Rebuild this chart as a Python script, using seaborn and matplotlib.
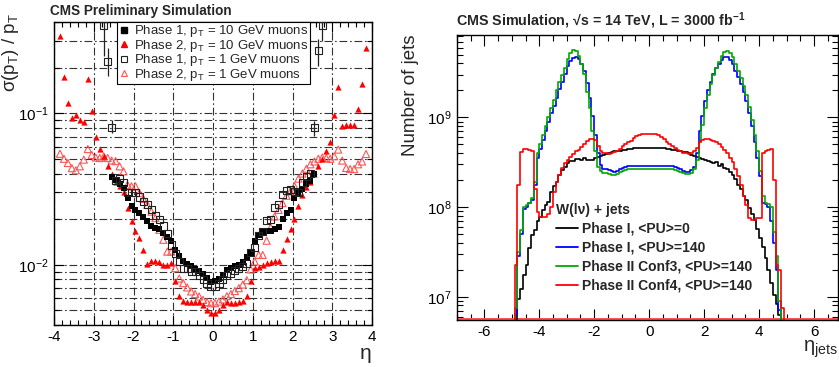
import numpy as np
import matplotlib
matplotlib.use("Agg")
import matplotlib.pyplot as plt
import seaborn as sns
from matplotlib.ticker import LogLocator, MultipleLocator, NullFormatter, LogFormatterMathtext
from matplotlib.lines import Line2D

# ---------------- data: left panel (sigma(pT)/pT vs eta) ----------------
eta_p1_10 = np.round(np.arange(-2.55, 2.56, 0.1), 2)
res_p1_10 = [0.0381, 0.0360, 0.0339, 0.0319, 0.0276, 0.0243, 0.0231, 0.0220, 0.0206, 0.0194,
             0.0179, 0.0175, 0.0171, 0.0162, 0.0152, 0.0143, 0.0126, 0.0114, 0.0106, 0.0101,
             0.00975, 0.0094, 0.0091, 0.00867, 0.0082, 0.00768,
             0.00783, 0.0081, 0.0086, 0.00927, 0.0095, 0.00975, 0.0100, 0.0105, 0.0112, 0.0119,
             0.0143, 0.0156, 0.0164, 0.0168, 0.0168, 0.0171, 0.0177, 0.0199, 0.0220, 0.0231,
             0.0276, 0.0298, 0.0314, 0.0342, 0.0356, 0.0394]

eta_p2 = np.round(np.arange(-3.85, 3.86, 0.1), 2)
res_p2_10 = [0.324, 0.173, 0.116, 0.093, 0.0966, 0.0908, 0.0877, 0.167, 0.104, 0.070,
             0.058, 0.052, 0.045, 0.040, 0.035, 0.033, 0.030, 0.0236, 0.0193, 0.0168,
             0.0151, 0.0125, 0.0101, 0.0106, 0.0106, 0.0104, 0.0100, 0.0100, 0.0102, 0.0078,
             0.0062, 0.0058, 0.0057, 0.0057, 0.0057, 0.0057, 0.0054, 0.0050, 0.0048,
             0.0048, 0.0050, 0.0054, 0.0057, 0.0056, 0.0056, 0.0057, 0.0058, 0.0062, 0.0078,
             0.0095, 0.0097, 0.0100, 0.0102, 0.0104, 0.0106, 0.0106, 0.0125, 0.0148, 0.0172,
             0.0200, 0.0245, 0.0290, 0.0325, 0.0350, 0.0400, 0.0450, 0.0500, 0.0560, 0.0650,
             0.0970, 0.148, 0.082, 0.083, 0.084, 0.083, 0.107, 0.155, 0.270]

eta_p1_1 = np.round(np.arange(-2.75, 2.76, 0.1), 2)
res_p1_1 = [0.38, 0.22, 0.081, 0.036, 0.037, 0.035, 0.030, 0.030, 0.030, 0.028,
            0.026, 0.025, 0.023, 0.021, 0.020, 0.018, 0.016, 0.0135, 0.0118, 0.0105,
            0.0095, 0.0095, 0.0090, 0.0090, 0.0085, 0.0080, 0.0075, 0.0072,
            0.0072, 0.0075, 0.0080, 0.0085, 0.0088, 0.0092, 0.0095, 0.0098, 0.0102, 0.0120,
            0.0130, 0.0155, 0.0165, 0.0195, 0.0200, 0.0240, 0.0250, 0.0290, 0.0310, 0.0315,
            0.0305, 0.0300, 0.0350, 0.0380, 0.0400, 0.080, 0.26, 0.38]
err_eta = [-2.75, -2.65, -2.55, 2.55, 2.65, 2.75]
err_lo = [0.24, 0.176, 0.074, 0.071, 0.206, 0.30]
err_hi = [0.50, 0.27, 0.090, 0.089, 0.31, 0.50]

res_p2_1 = [0.054, 0.050, 0.0469, 0.0434, 0.0420, 0.0446, 0.0494, 0.0580, 0.0530, 0.0510,
            0.0506, 0.0518, 0.0506, 0.0487, 0.0483, 0.0446, 0.0413, 0.0337, 0.0329, 0.0329,
            0.0297, 0.0272, 0.0248, 0.0224, 0.0203, 0.0170, 0.0146, 0.0122, 0.0122, 0.0095,
            0.0081, 0.00756, 0.00708, 0.00666, 0.0064, 0.00617, 0.00586, 0.00566, 0.00557,
            0.00557, 0.00571, 0.0059, 0.0062, 0.0064, 0.0067, 0.0070, 0.0074, 0.0079, 0.0093,
            0.0105, 0.0116, 0.0116, 0.0144, 0.0176, 0.0208, 0.0230, 0.0255, 0.0285, 0.0305,
            0.0330, 0.0370, 0.0400, 0.0430, 0.0460, 0.0480, 0.0500, 0.0510, 0.0505, 0.0500,
            0.0520, 0.0575, 0.0487, 0.0435, 0.0428, 0.0428, 0.0460, 0.0480, 0.0538]

legend_left = ["Phase 1, p$_T$ = 10 GeV muons", "Phase 2, p$_T$ = 10 GeV muons",
               "Phase 1, p$_T$ = 1 GeV muons", "Phase 2, p$_T$ = 1 GeV muons"]

# ---------------- data: right panel (jets vs eta), units of 1e8 ----------------
bin_edges = np.round(np.arange(-5.0, 5.001, 0.1), 2)
jets_p1_pu0 = [0, 0.056, 0.095, 0.123, 0.174, 0.224, 0.347, 0.490, 0.550, 0.692,
               0.776, 0.933, 1.047, 1.148, 1.479, 1.698, 1.905, 2.291, 2.57, 2.818,
               3.09, 3.236, 3.236, 3.467, 3.467, 3.311, 3.548, 3.311, 3.311, 3.388,
               3.548, 3.631, 3.715, 3.802, 3.89, 3.98, 4.07, 4.17, 4.17, 4.27,
               4.37, 4.37, 4.47, 4.47, 4.57, 4.57, 4.57, 4.57, 4.57, 4.57,
               4.57, 4.57, 4.57, 4.57, 4.57, 4.57, 4.47, 4.47, 4.37, 4.37,
               4.27, 4.17, 4.07, 4.07, 3.98, 3.802, 3.715, 3.631, 3.548, 3.467,
               3.311, 3.236, 3.162, 3.09, 3.162, 2.884, 3.02, 2.754, 2.69, 2.455,
               2.291, 2.04, 1.778, 1.585, 1.318, 1.202, 0.977, 0.832, 0.724, 0.575,
               0.457, 0.363, 0.269, 0.20, 0.141, 0.105, 0.083, 0.063, 0, 0]
jets_p1_pu140 = [0, 0.063, 0.282, 0.501, 0.955, 1.0, 1.096, 1.202, 1.778, 3.548,
                 4.47, 5.62, 7.08, 8.91, 11.2, 13.5, 16.6, 20.9, 25.1, 30.2,
                 37.2, 42.7, 45.7, 46.8, 44.7, 39.8, 33.1, 24.0, 16.6, 10.5,
                 6.31, 3.98, 2.951, 2.69, 2.63, 2.57, 2.512, 2.455, 2.512, 2.63,
                 2.754, 2.818, 2.884, 2.884, 2.884, 2.884, 2.884, 2.884, 2.884, 2.884,
                 2.884, 2.884, 2.884, 2.884, 2.884, 2.884, 2.884, 2.884, 2.884, 2.818,
                 2.754, 2.63, 2.512, 2.455, 2.455, 2.57, 2.818, 3.98, 7.08, 10.5,
                 15.1, 20.0, 25.1, 30.2, 35.5, 39.8, 43.7, 46.8, 46.8, 43.7,
                 39.8, 33.1, 28.2, 23.4, 19.1, 15.1, 11.2, 7.94, 5.25, 3.548,
                 2.239, 1.122, 1.072, 1.0, 0.708, 0.398, 0.20, 0.071, 0, 0]
jets_p2_conf3 = [0, 0.074, 0.316, 0.562, 1.0, 1.047, 1.122, 1.259, 1.905, 3.98,
                 5.01, 6.31, 7.94, 10.0, 12.6, 15.8, 20.0, 25.1, 29.5, 35.5,
                 44.7, 52.5, 56.2, 55.0, 47.9, 39.8, 30.2, 19.1, 12.6, 7.08,
                 4.17, 2.818, 2.512, 2.399, 2.399, 2.344, 2.291, 2.291, 2.344, 2.455,
                 2.512, 2.57, 2.63, 2.69, 2.69, 2.69, 2.69, 2.69, 2.69, 2.69,
                 2.69, 2.69, 2.69, 2.69, 2.69, 2.69, 2.69, 2.69, 2.63, 2.57,
                 2.512, 2.455, 2.399, 2.344, 2.344, 2.399, 2.63, 3.311, 5.25, 8.32,
                 12.6, 17.8, 23.4, 29.5, 35.5, 41.7, 47.9, 53.7, 55.0, 52.5,
                 46.8, 39.8, 33.1, 27.5, 22.4, 17.8, 13.2, 9.33, 6.31, 4.17,
                 2.512, 1.318, 1.122, 1.072, 1.0, 0.525, 0.282, 0.089, 0, 0]
jets_p2_conf4 = [0, 0.224, 1.778, 4.07, 4.47, 4.47, 4.37, 4.27, 1.585, 0.891,
                 0.776, 0.776, 0.776, 0.832, 1.0, 1.479, 1.905, 2.291, 2.754, 3.09,
                 3.311, 3.631, 3.89, 4.17, 4.37, 4.68, 5.01, 5.50, 5.75, 5.75,
                 5.62, 4.79, 4.27, 3.98, 3.98, 3.89, 3.98, 4.07, 4.27, 4.47,
                 4.79, 5.01, 5.25, 5.50, 5.89, 6.17, 6.31, 6.46, 6.61, 6.61,
                 6.61, 6.61, 6.46, 6.31, 6.03, 5.75, 5.37, 5.01, 4.79, 4.57,
                 4.37, 4.17, 3.98, 3.98, 3.89, 3.98, 4.17, 4.57, 5.25, 5.62,
                 5.75, 5.75, 5.62, 5.50, 5.25, 5.01, 4.68, 4.37, 3.98, 3.548,
                 3.162, 2.63, 2.239, 1.778, 1.318, 1.047, 0.759, 0.724, 0.724, 0.759,
                 0.759, 3.98, 4.27, 4.37, 4.47, 1.995, 0.224, 0.20, 0.074, 0]
legend_right = ["Phase I, <PU>=0", "Phase I, <PU>=140",
                "Phase II Conf3, <PU>=140", "Phase II Conf4, <PU>=140"]
colors_right = ["black", "#0000ff", "#00aa00", "#ff0000"]

# ---------------- style ----------------
sns.set_theme(style="ticks")
plt.rcParams['font.family'] = ['Liberation Sans', 'DejaVu Sans']
plt.rcParams['mathtext.default'] = 'regular'
plt.rcParams['axes.unicode_minus'] = False
plt.rcParams['axes.linewidth'] = 1.0
plt.rcParams['axes.edgecolor'] = 'black'

W, H = 839, 367
fig = plt.figure(figsize=(W / 100, H / 100), dpi=100)

# ================= left panel =================
axL = fig.add_axes([54 / W, 42 / H, 318 / W, 303 / H])
red = "#ff0000"
sns.scatterplot(x=eta_p2, y=res_p2_1, ax=axL, marker="^", s=26, facecolors="none",
                edgecolor="#ff5555", linewidth=0.8, zorder=3)
sns.scatterplot(x=eta_p2, y=res_p2_10, ax=axL, marker="^", s=20, color=red,
                edgecolor=red, linewidth=0, zorder=4)
sns.scatterplot(x=eta_p1_10, y=res_p1_10, ax=axL, marker="s", s=16, color="black",
                edgecolor="black", linewidth=0, zorder=5)
sns.scatterplot(x=eta_p1_1, y=res_p1_1, ax=axL, marker="s", s=26, facecolors="none",
                edgecolor="#222222", linewidth=0.8, zorder=6)
axL.vlines(err_eta, err_lo, err_hi, color="#222222", lw=0.9, zorder=6)

axL.set_yscale("log")
axL.set_xlim(-4, 4)
axL.set_ylim(0.004, 0.4)
axL.xaxis.set_major_locator(MultipleLocator(1))
axL.xaxis.set_minor_locator(MultipleLocator(0.2))
axL.yaxis.set_major_locator(LogLocator(base=10, numticks=10))
axL.yaxis.set_minor_locator(LogLocator(base=10, subs=np.arange(2, 10), numticks=20))
axL.yaxis.set_major_formatter(LogFormatterMathtext())
axL.yaxis.set_minor_formatter(NullFormatter())
gstyle = dict(color="#333333", lw=0.8, ls=(0, (7, 2.5, 1.5, 2.5)))
axL.grid(True, which="both", axis="y", **gstyle)
axL.grid(True, which="major", axis="x", **gstyle)
axL.set_axisbelow(True)
axL.tick_params(which="both", direction="in", top=True, right=True, labelsize=11,
                colors="black")
axL.tick_params(which="major", length=7, width=0.8)
axL.tick_params(which="minor", length=3.5, width=0.8)
axL.set_xlabel("η", fontsize=15, loc="right")
axL.xaxis.set_label_coords(1.0, -(344 - 325) / 303)
axL.set_ylabel("σ(p$_T$) / p$_T$", fontsize=13.5, loc="top", labelpad=2)
axL.yaxis.set_label_coords(-0.105, 1.03)

handlesL = [
    Line2D([], [], ls="none", marker="s", ms=4, mfc="black", mec="black"),
    Line2D([], [], ls="none", marker="^", ms=4.5, mfc=red, mec=red),
    Line2D([], [], ls="none", marker="s", ms=5, mfc="none", mec="#222222", mew=0.8),
    Line2D([], [], ls="none", marker="^", ms=5, mfc="none", mec="#ff5555", mew=0.8),
]
legL = axL.legend(handlesL, legend_left, loc="upper left",
                  bbox_to_anchor=((117 - 54) / 318, 1.0), fontsize=9.5,
                  frameon=True, fancybox=False, framealpha=1, edgecolor="black",
                  borderpad=0.1, labelspacing=-0.12, handletextpad=0.3,
                  handlelength=0.9, borderaxespad=0)
legL.get_frame().set_linewidth(0.8)
legL.set_zorder(10)

fig.text(50 / W, 1 - 11 / H, "CMS Preliminary Simulation", fontsize=9.8,
         fontweight="bold", ha="left", va="center")

# ================= right panel =================
axR = fig.add_axes([456.8 / W, 47 / H, 381.2 / W, 285 / H])
for vals, col in zip([jets_p1_pu0, jets_p1_pu140, jets_p2_conf3, jets_p2_conf4], colors_right):
    yv = np.append(np.array(vals, dtype=float), vals[-1]) * 1e8
    sns.lineplot(x=bin_edges, y=yv, ax=axR, drawstyle="steps-post", color=col,
                 lw=1.2, estimator=None, sort=False)
axR.set_yscale("log")
axR.set_xlim(-7, 6.87)
axR.set_ylim(5.5e6, 8.3e9)
axR.axhline(5.6e6, color="#ff5050", lw=1.4, zorder=1)
axR.xaxis.set_major_locator(MultipleLocator(2))
axR.xaxis.set_minor_locator(MultipleLocator(0.5))
axR.yaxis.set_major_locator(LogLocator(base=10, numticks=10))
axR.yaxis.set_minor_locator(LogLocator(base=10, subs=np.arange(2, 10), numticks=20))
axR.yaxis.set_major_formatter(LogFormatterMathtext())
axR.yaxis.set_minor_formatter(NullFormatter())
axR.tick_params(which="both", direction="in", top=True, right=True, labelsize=11,
                colors="black")
axR.tick_params(which="major", length=8, width=0.8)
axR.tick_params(which="minor", length=4, width=0.8)
axR.set_xlabel("η$_{jets}$", fontsize=14.5, loc="right")
axR.xaxis.set_label_coords(1.0, -(338 - 320) / 285)
axR.set_ylabel("Number of jets", fontsize=13.5, loc="top", labelpad=2)
axR.yaxis.set_label_coords(-0.10, 1.0)

handlesR = [Line2D([], [], color=c, lw=1.3) for c in colors_right]
legR = axR.legend(handlesR, legend_right, loc="upper left",
                  bbox_to_anchor=((556 - 456.8) / 381.2, (320 - 203) / 285),
                  frameon=False, prop={"weight": "bold", "size": 10},
                  title="W(lν) + jets", title_fontproperties={"weight": "bold", "size": 10},
                  borderpad=0, borderaxespad=0, labelspacing=0.35, handlelength=1.55,
                  handletextpad=0.35)
legR._legend_box.align = "left"

fig.text(456.5 / W, 1 - 21 / H, "CMS Simulation, √s = 14 TeV, L = 3000 fb$^{-1}$",
         fontsize=10.3, fontweight="bold", ha="left", va="center")

fig.savefig("out.png", dpi=100)
